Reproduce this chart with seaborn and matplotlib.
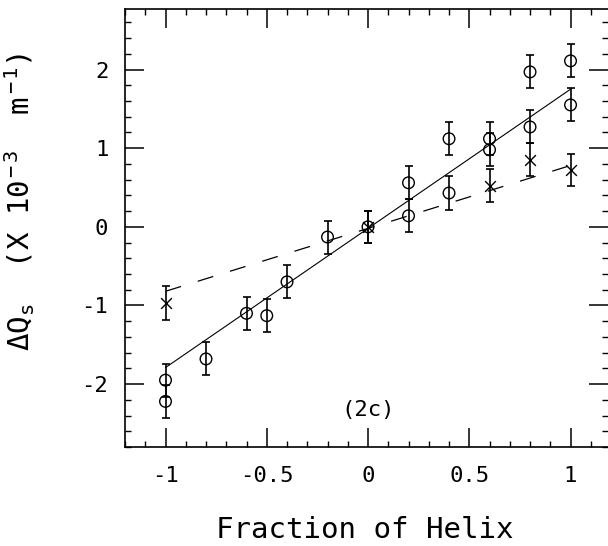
import numpy as np
import seaborn as sns
import matplotlib
matplotlib.use("Agg")
import matplotlib.pyplot as plt
from matplotlib.ticker import MultipleLocator


# circles (with error bars)
circ_x = [1, 1, 0.8, 0.8, 0.6, 0.6, 0.4, 0.4, 0.2, 0.2, 0, -0.2, -0.4, -0.5, -0.6, -0.8, -1, -1]
circ_y = [2.11, 1.55, 1.97, 1.27, 1.12, 0.98, 1.12, 0.43, 0.56, 0.14, 0.0, -0.13, -0.70, -1.13, -1.10, -1.68, -1.95, -2.22]
circ_err = [0.21, 0.21, 0.21, 0.21, 0.21, 0.21, 0.21, 0.21, 0.21, 0.21, 0.2, 0.21, 0.21, 0.21, 0.21, 0.21, 0.21, 0.21]

# crosses (with error bars)
cross_x = [-1, 0, 0.6, 0.8, 1]
cross_y = [-0.97, 0.0, 0.52, 0.85, 0.72]
cross_err = [0.22, 0.2, 0.21, 0.21, 0.2]

# fitted lines
fit_x = [-1, 1]
fit_y = [-1.79, 1.75]
dash_x = [-1, 1]
dash_y = [-0.82, 0.78]

sns.set_theme(style="ticks")
plt.rcParams['font.family'] = ['DejaVu Sans Mono']
plt.rcParams['mathtext.fontset'] = 'custom'
plt.rcParams['mathtext.rm'] = 'DejaVu Sans Mono'
plt.rcParams['mathtext.it'] = 'DejaVu Sans Mono'
plt.rcParams['text.color'] = 'black'
plt.rcParams['axes.labelcolor'] = 'black'

fig = plt.figure(figsize=(6.08, 5.46), dpi=100)
ax = fig.add_axes([125/608, 1-447/546, 1-125/608, (447-9)/546])

# lines
sns.lineplot(x=fit_x, y=fit_y, ax=ax, color="black", linewidth=0.8)
dl = sns.lineplot(x=dash_x, y=dash_y, ax=ax, color="black", linewidth=0.9)
dl.lines[-1].set_dashes([13, 14])

# error bars
ax.errorbar(circ_x, circ_y, yerr=circ_err, fmt="none", ecolor="black", elinewidth=1.2, capsize=3, capthick=1.2)
ax.errorbar(cross_x, cross_y, yerr=cross_err, fmt="none", ecolor="black", elinewidth=1.2, capsize=3, capthick=1.2)

# markers
sns.scatterplot(x=circ_x, y=circ_y, ax=ax, marker="o", s=70, facecolor="none", edgecolor="black", linewidth=1.0)
sns.scatterplot(x=cross_x, y=cross_y, ax=ax, marker="x", s=60, color="black", linewidth=1.0)

ax.set_xlim(-1.2, 1.185)
ax.set_ylim(-2.8, 2.77)

ax.xaxis.set_major_locator(MultipleLocator(0.5))
ax.xaxis.set_minor_locator(MultipleLocator(0.1))
ax.yaxis.set_major_locator(MultipleLocator(1))
ax.yaxis.set_minor_locator(MultipleLocator(0.2))
ax.set_xticks([-1, -0.5, 0, 0.5, 1])
ax.set_xticklabels(["-1", "-0.5", "0", "0.5", "1"])
ax.set_yticks([-2, -1, 0, 1, 2])
ax.set_yticklabels(["-2", "-1", "0", "1", "2"])

ax.tick_params(which="both", direction="in", top=True, right=True, colors="black")
ax.tick_params(which="major", length=14, width=1.1, labelsize=16, pad=12)
ax.tick_params(axis="x", which="major", pad=14)
ax.tick_params(which="minor", length=4.5, width=1.0)

for s in ["left", "bottom", "top"]:
    ax.spines[s].set_linewidth(1.2)
    ax.spines[s].set_color("black")
ax.spines["right"].set_visible(False)

ax.set_xlabel("Fraction of Helix", fontsize=21)
ax.set_ylabel(r"$\Delta$Q$_{\rm s}$  (X 10$^{\rm -3}$  m$^{\rm -1}$)", fontsize=21)
ax.xaxis.set_label_coords(0.497, -0.158)
ax.yaxis.set_label_coords(-0.182, 0.559)

ax.text(0, -2.33, "(2c)", ha="center", va="center", fontsize=16)

fig.savefig("out.png", dpi=100)
